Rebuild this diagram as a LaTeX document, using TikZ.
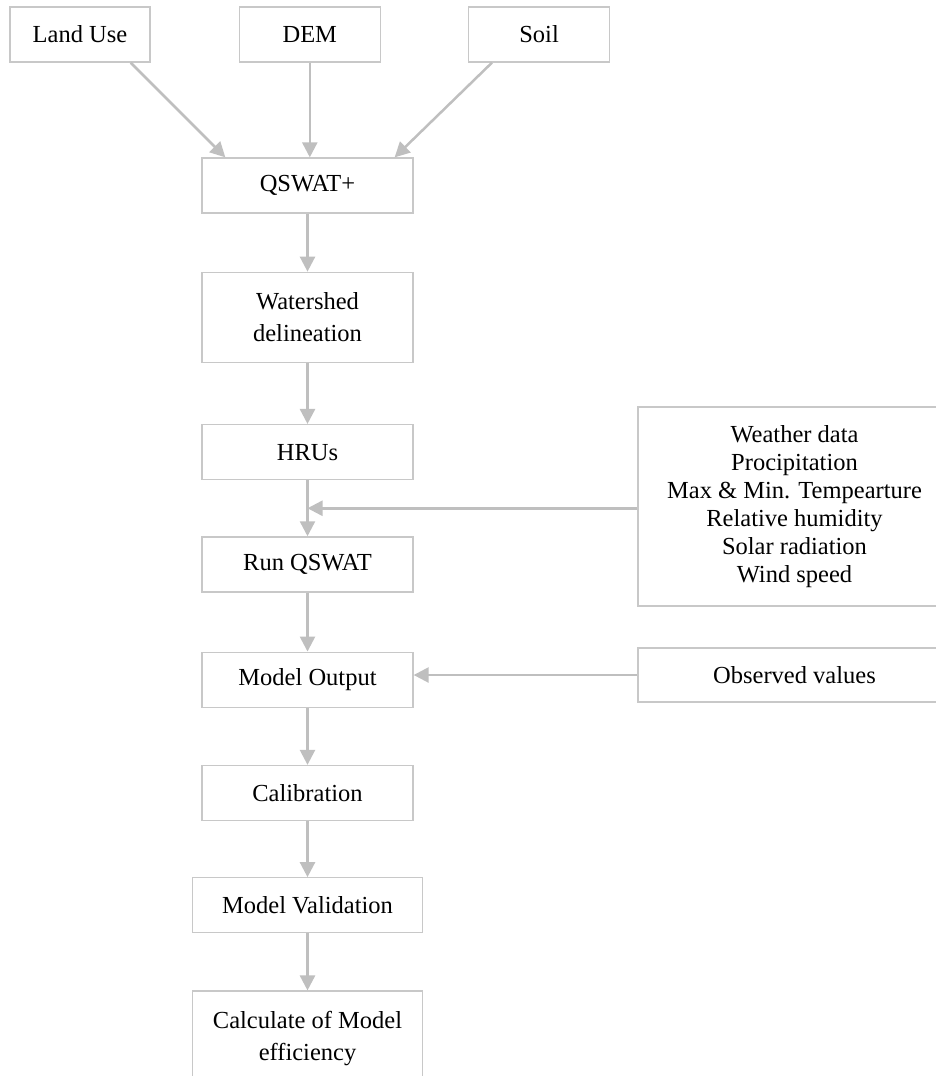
\documentclass[tikz,border=0pt]{standalone}
\usepackage{fontspec}
\setmainfont{Liberation Serif}
\usepackage{tikz}
\usetikzlibrary{arrows.meta,positioning,calc}
\definecolor{GrayLine}{RGB}{191,191,191}
\definecolor{GrayBox}{RGB}{200,200,200}
\tikzset{
  box/.style={draw=GrayBox,line width=1.3pt,fill=white,inner sep=0pt,minimum width=211pt,minimum height=55pt,align=center,font=\fontsize{24.5}{32}\selectfont},
  flow/.style={-{Triangle[length=15pt,width=15pt]},draw=GrayLine,line width=2.5pt}
}
\begin{document}
\begin{tikzpicture}[x=1pt,y=-1pt,node distance=57pt]
\useasboundingbox (0,0) rectangle (935,1076);
% inputs
\node[box,minimum width=140pt] (landuse) at (80,34.5) {Land Use};
\node[box,minimum width=141pt,right=88pt of landuse] (dem) {DEM};
\node[box,minimum width=141pt,right=87pt of dem] (soil) {Soil};
% main chain
\node[box] (qswat) at (307.5,185.5) {QSWAT+};
\node[box,minimum height=90pt,below=58pt of qswat] (watershed) {Watershed\\delineation};
\node[box,below=61pt of watershed] (hrus) {HRUs};
\node[box,below=56pt of hrus] (run) {Run QSWAT};
\node[box,below=59pt of run] (output) {Model Output};
\node[box,below=of output] (calib) {Calibration};
\node[box,minimum width=230pt,below=56pt of calib] (valid) {Model Validation};
\node[box,minimum width=230pt,minimum height=95pt,below=of valid] (effic) {Calculate of Model\\efficiency};
% side inputs
\node[box,minimum width=313pt,minimum height=199pt,font=\fontsize{24.5}{28}\selectfont] (weather) at (794.5,506.5) {Weather data\\Procipitation\\Max \& Min. Tempearture\\Relative humidity\\Solar radiation\\Wind speed};
\node[box,minimum width=313pt,minimum height=54pt] (observed) at (794.5,675) {Observed values};
\coordinate (join) at ($(hrus.south)!0.5!(run.north)$);
\draw[flow] ($(landuse.south east)+(-20,0)$)--($(qswat.north west)+(24,0)$);
\draw[flow] (dem.south)--(dem.south |- qswat.north);
\draw[flow] ($(soil.south west)+(24,0)$)--($(qswat.north east)+(-19,0)$);
\draw[flow](qswat)--(watershed);
\draw[flow](watershed)--(hrus);
\draw[flow](hrus)--(run);
\draw[flow](run)--(output);
\draw[flow](output)--(calib);
\draw[flow](calib)--(valid);
\draw[flow](valid)--(effic);
\draw[flow](weather.west |- join)--(join);
\draw[flow](observed.west)--(observed.west -| output.east);
\end{tikzpicture}
\end{document}
